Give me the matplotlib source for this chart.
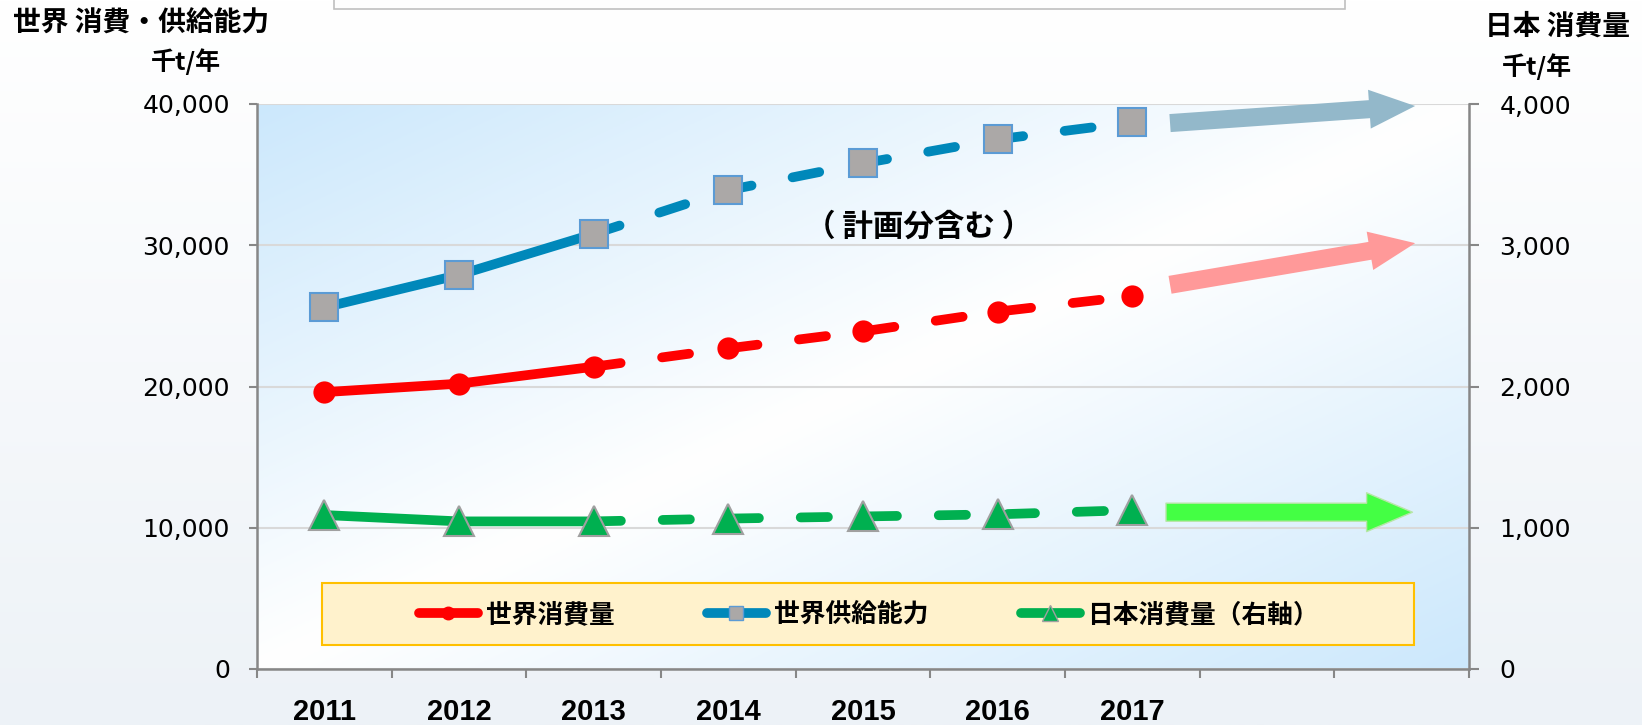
import numpy as np
import matplotlib

matplotlib.use("Agg")
import matplotlib.pyplot as plt
from matplotlib.lines import Line2D
from matplotlib.patches import Rectangle

# ---- data (thousand t / year) ----
years = ["2011", "2012", "2013", "2014", "2015", "2016", "2017", "", ""]
world_consumption = [19600, 20200, 21400, 22700, 23900, 25300, 26400]
world_supply = [25600, 27900, 30800, 33900, 35800, 37500, 38700]
japan_consumption = [1090, 1045, 1045, 1065, 1080, 1095, 1125]
n_actual = 3  # 2011-2013 actual (solid), later planned (dashed)

series_labels = ["世界消費量", "世界供給能力", "日本消費量（右軸）"]
left_ticks = [0, 10000, 20000, 30000, 40000]
right_ticks = [0, 1000, 2000, 3000, 4000]

# trend arrows (tail -> tip), left axis units
arrows = [
    ((6.28, 38650), (8.10, 39860), "#93B8CA", "none"),
    ((6.28, 27200), (8.10, 30150), "#FF9999", "none"),
    ((6.25, 11100), (8.08, 11100), "#44FF44", "#B8E6A8"),
]

RED = "#FF0000"
BLUE = "#0088BA"
GREEN = "#00B050"
GRAY = "#878787"
CJK = ["Noto Sans CJK JP", "DejaVu Sans"]

fig = plt.figure(figsize=(16.42, 7.25), dpi=100)

# figure background: white to pale blue-gray at the bottom
bg = fig.add_axes([0, 0, 1, 1], zorder=-10)
grad = np.linspace(0, 1, 256)[:, None]
top_c = np.array([1.0, 1.0, 1.0])
bot_c = np.array([0xED, 0xF2, 0xF7]) / 255
bg.imshow(top_c + (bot_c - top_c) * grad[:, :, None], aspect="auto", extent=[0, 1, 0, 1])
bg.axis("off")

# cropped text box at the top
fig.add_artist(Rectangle((334 / 1642, 1 - 9 / 725), 1011 / 1642, 0.1,
                         transform=fig.transFigure, fc="#FDFDFD", ec="#BFBFBF", lw=1.2))

ax = fig.add_axes([257 / 1642, 1 - 669 / 725, 1212 / 1642, 565 / 725])
ax2 = ax.twinx()

# plot area diagonal gradient (blue corners, white diagonal)
u, v = np.meshgrid(np.linspace(0, 1, 300), np.linspace(1, 0, 200))
f = np.abs(u + (1 - v) - 1)[:, :, None]
blue_c = np.array([0xCC, 0xE8, 0xFC]) / 255
ax.imshow(1 + (blue_c - 1) * f, aspect="auto", extent=[0, 1, 0, 1],
          transform=ax.transAxes, zorder=0)
ax.set_facecolor("none")

x = np.arange(len(world_consumption))
LW = 7
dash = (2.8, 4.3)


def draw_series(axis, values, color, marker, ms, mfc, mec, mew):
    axis.plot(x[:n_actual], values[:n_actual], color=color, lw=LW,
              solid_capstyle="round", zorder=3)
    axis.plot(x[n_actual - 1:], values[n_actual - 1:], color=color, lw=LW,
              dashes=dash, dash_capstyle="round", zorder=3)
    axis.plot(x, values, ls="none", marker=marker, ms=ms, mfc=mfc, mec=mec,
              mew=mew, zorder=4)


draw_series(ax, world_consumption, RED, "o", 16, RED, RED, 0)
draw_series(ax, world_supply, BLUE, "s", 20, "#ABA8A7", "#5B9BD5", 1.5)
draw_series(ax2, japan_consumption, GREEN, "^", 21, GREEN, "#A0A0A0", 1.5)

for tail, tip, fc, ec in arrows:
    ax.annotate("", xy=tip, xytext=tail, zorder=2,
                arrowprops=dict(arrowstyle="simple,head_length=3.3,head_width=2.8,tail_width=1.3",
                                mutation_scale=10, fc=fc, ec=ec, lw=1,
                                shrinkA=0, shrinkB=0))

ax.text(4.41, 31300, "（ 計画分含む ）", fontsize=22, fontweight="bold", family=CJK,
        ha="center", va="center", zorder=5)

# axes
ax.set_xlim(-0.5, len(years) - 0.5)
ax.set_ylim(0, 40000)
ax2.set_ylim(0, 4000)
ax.set_yticks(left_ticks)
ax.set_yticklabels([f"{t:,}" for t in left_ticks])
ax2.set_yticks(right_ticks)
ax2.set_yticklabels([f"{t:,}" for t in right_ticks])
ax.set_xticks(np.arange(-0.5, len(years), 1))
ax.set_xticklabels([])
ax.set_xticks(np.arange(len(years)), minor=True)
ax.set_xticklabels(years, minor=True, fontsize=21, fontweight="bold",
                   family=["Liberation Sans", "DejaVu Sans"])
ax.tick_params(axis="x", which="major", length=6.5, width=1.5, color=GRAY)
ax.tick_params(axis="x", which="minor", length=0, pad=21)
ax.tick_params(axis="y", length=6, width=1.5, color=GRAY, labelsize=18, pad=13.5)
ax2.tick_params(axis="y", length=7, width=1.5, color=GRAY, labelsize=18, pad=15)

ax.yaxis.grid(True, color="#D9D9D9", lw=1.5, zorder=1)
ax.set_axisbelow(True)
for s in ["top", "right"]:
    ax.spines[s].set_visible(False)
for s in ["top", "left", "bottom"]:
    ax2.spines[s].set_visible(False)
for s in ["left", "bottom"]:
    ax.spines[s].set_color(GRAY)
    ax.spines[s].set_linewidth(1.8)
ax2.spines["right"].set_color(GRAY)
ax2.spines["right"].set_linewidth(1.8)

# legend box
ax2.add_patch(Rectangle((0.054, 0.042), 0.901, 0.11, transform=ax2.transAxes,
                        fc="#FFF2CC", ec="#FFC000", lw=1.5, zorder=6))
handles = [
    Line2D([], [], color=RED, lw=LW, solid_capstyle="round", marker="o", ms=9, mfc=RED, mec=RED),
    Line2D([], [], color=BLUE, lw=LW, solid_capstyle="round", marker="s", ms=10, mfc="#ABA8A7", mec="#5B9BD5"),
    Line2D([], [], color=GREEN, lw=LW, solid_capstyle="round", marker="^", ms=11, mfc=GREEN, mec="#A0A0A0"),
]
leg = ax2.legend(handles, series_labels, loc="center", bbox_to_anchor=(0.505, 0.097),
                 ncol=3, frameon=False, handlelength=2.3, handletextpad=0.3,
                 columnspacing=3.6, prop=dict(family=CJK, size=18.5, weight="bold"))
leg.set_zorder(7)

# titles / units
fig.text(13 / 1642, 1 - 24 / 725, "世界 消費・供給能力", fontsize=20, fontweight="bold",
         family=CJK, ha="left", va="center")
fig.text(186 / 1642, 1 - 62 / 725, "千t/年", fontsize=18, fontweight="bold",
         family=CJK, ha="center", va="center")
fig.text(1485 / 1642, 1 - 27 / 725, "日本 消費量", fontsize=20, fontweight="bold",
         family=CJK, ha="left", va="center")
fig.text(1537 / 1642, 1 - 67 / 725, "千t/年", fontsize=18, fontweight="bold",
         family=CJK, ha="center", va="center")

fig.savefig("out.png", dpi=100)
